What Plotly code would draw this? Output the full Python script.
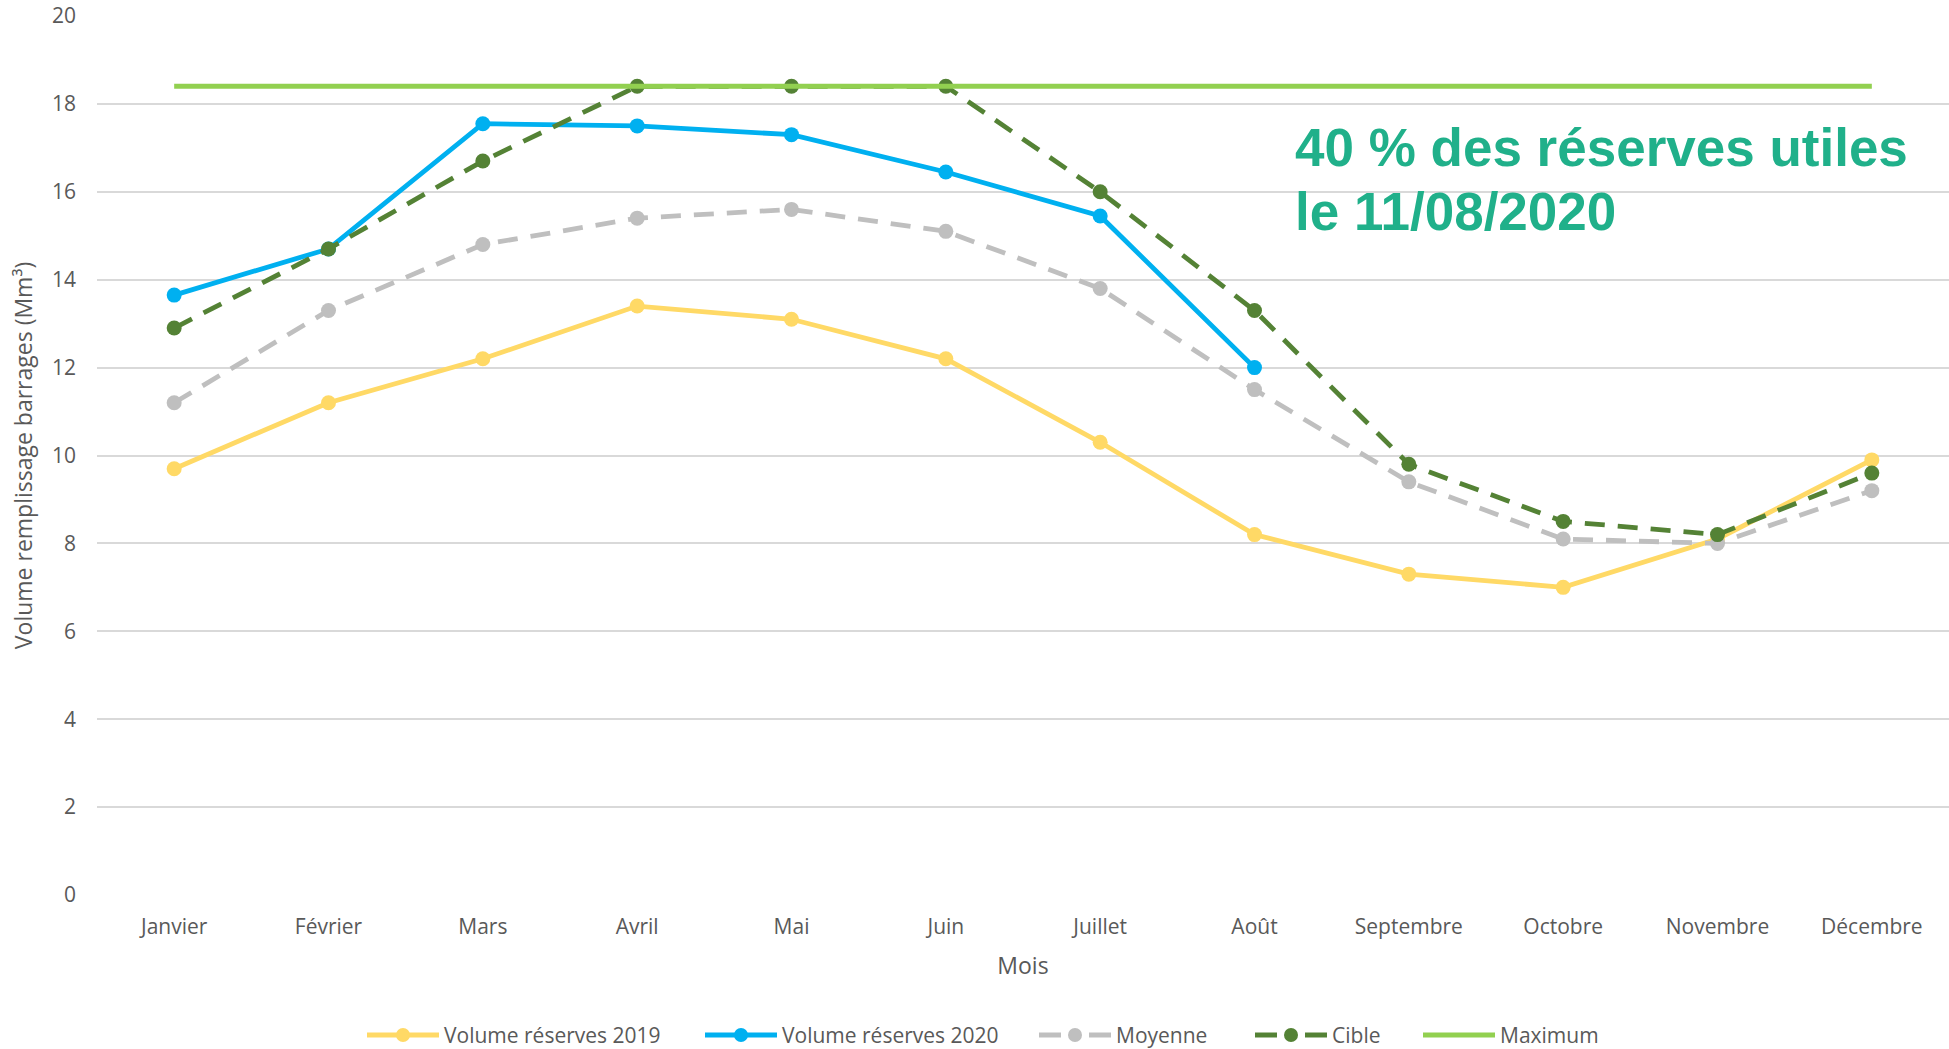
import plotly.graph_objects as go

mois = ["Janvier", "Février", "Mars", "Avril", "Mai", "Juin", "Juillet", "Août",
        "Septembre", "Octobre", "Novembre", "Décembre"]
vol_2019 = [9.7, 11.2, 12.2, 13.4, 13.1, 12.2, 10.3, 8.2, 7.3, 7.0, 8.1, 9.9]
vol_2020 = [13.65, 14.7, 17.55, 17.5, 17.3, 16.45, 15.45, 12.0]
moyenne = [11.2, 13.3, 14.8, 15.4, 15.6, 15.1, 13.8, 11.5, 9.4, 8.1, 8.0, 9.2]
cible = [12.9, 14.7, 16.7, 18.4, 18.4, 18.4, 16.0, 13.3, 9.8, 8.5, 8.2, 9.6]
maximum = [18.4] * 12
y_ticks = [0, 2, 4, 6, 8, 10, 12, 14, 16, 18, 20]

FONT = "Open Sans"
GRAY_TXT = "#595959"
W, H = 1949, 1049
ML, MR, MT, MB = 97, 0, 16, 154
PW, PH = W - ML - MR, H - MT - MB

series = [
    dict(name="Volume réserves 2019", color="#FFD966", dashed=False, marker=True),
    dict(name="Volume réserves 2020", color="#00B0F0", dashed=False, marker=True),
    dict(name="Moyenne", color="#BFBFBF", dashed=True, marker=True),
    dict(name="Cible", color="#548235", dashed=True, marker=True),
    dict(name="Maximum", color="#92D050", dashed=False, marker=False),
]
data = [vol_2019, vol_2020, moyenne, cible, maximum]

fig = go.Figure()
for s, vals in zip(series, data):
    fig.add_trace(go.Scatter(
        x=mois[:len(vals)], y=vals, name=s["name"],
        mode="lines+markers" if s["marker"] else "lines",
        line=dict(color=s["color"], width=5 if not s["marker"] else 4.8,
                  dash="20px,13px" if s["dashed"] else "solid"),
        marker=dict(size=15, color=s["color"]),
        showlegend=False))

def px_x(px):
    return (px - ML) / PW

def px_y(py):
    return (H - MB - py) / PH

# custom legend (pixel layout)
leg_y = 1035
leg_x = [367, 705, 1039, 1255, 1423]
sym_w = 72
for s, x0 in zip(series, leg_x):
    yy = px_y(leg_y)
    if s["dashed"]:
        segs = [(x0, x0 + 22), (x0 + 50, x0 + sym_w)]
    else:
        segs = [(x0, x0 + sym_w)]
    for a, b in segs:
        fig.add_shape(type="line", xref="paper", yref="paper", x0=px_x(a), x1=px_x(b),
                      y0=yy, y1=yy, line=dict(color=s["color"], width=5))
    if s["marker"]:
        cx = px_x(x0 + sym_w / 2)
        fig.add_shape(type="circle", xref="paper", yref="paper", xsizemode="pixel",
                      ysizemode="pixel", xanchor=cx, yanchor=yy, x0=-7, x1=7, y0=-7, y1=7,
                      fillcolor=s["color"], line=dict(width=0))
    fig.add_annotation(text=s["name"], xref="paper", yref="paper", x=px_x(x0 + sym_w + 3),
                       y=yy, xanchor="left", yanchor="middle", showarrow=False,
                       font=dict(family=FONT, size=21, color=GRAY_TXT))

fig.add_annotation(text="<b>40 % des réserves utiles</b>", xref="paper", yref="y",
                   x=0.6458, y=17.0, xanchor="left", yanchor="middle", showarrow=False,
                   font=dict(family="Liberation Sans", size=53, color="#20B08A"))
fig.add_annotation(text="<b>le 11/08/2020</b>", xref="paper", yref="y",
                   x=0.6458, y=15.55, xanchor="left", yanchor="middle", showarrow=False,
                   font=dict(family="Liberation Sans", size=53, color="#20B08A"))

fig.update_layout(
    width=W, height=H,
    margin=dict(l=ML, r=MR, t=MT, b=MB),
    plot_bgcolor="white", paper_bgcolor="white",
    font=dict(family=FONT, size=21, color=GRAY_TXT),
    showlegend=False,
    xaxis=dict(type="category", range=[-0.5, 11.5], showgrid=False, zeroline=False,
               showline=False, ticks="", ticklabelstandoff=17, automargin=False,
               title=dict(text="Mois", font=dict(size=23, color=GRAY_TXT), standoff=18),
               tickfont=dict(size=21, color=GRAY_TXT)),
    yaxis=dict(range=[0, 20], tickvals=y_ticks, showgrid=True, gridcolor="#D9D9D9", gridwidth=1.5,
               zeroline=False, showline=False, ticks="", ticklabelstandoff=20, automargin=False,
               title=dict(text="Volume remplissage barrages (Mm³)", font=dict(size=23, color=GRAY_TXT),
                          standoff=12),
               tickfont=dict(size=21, color=GRAY_TXT)),
)

fig.write_html("out.html", config={"displayModeBar": False},
               post_script="document.body.style.margin='0';document.body.style.overflow='hidden';")
